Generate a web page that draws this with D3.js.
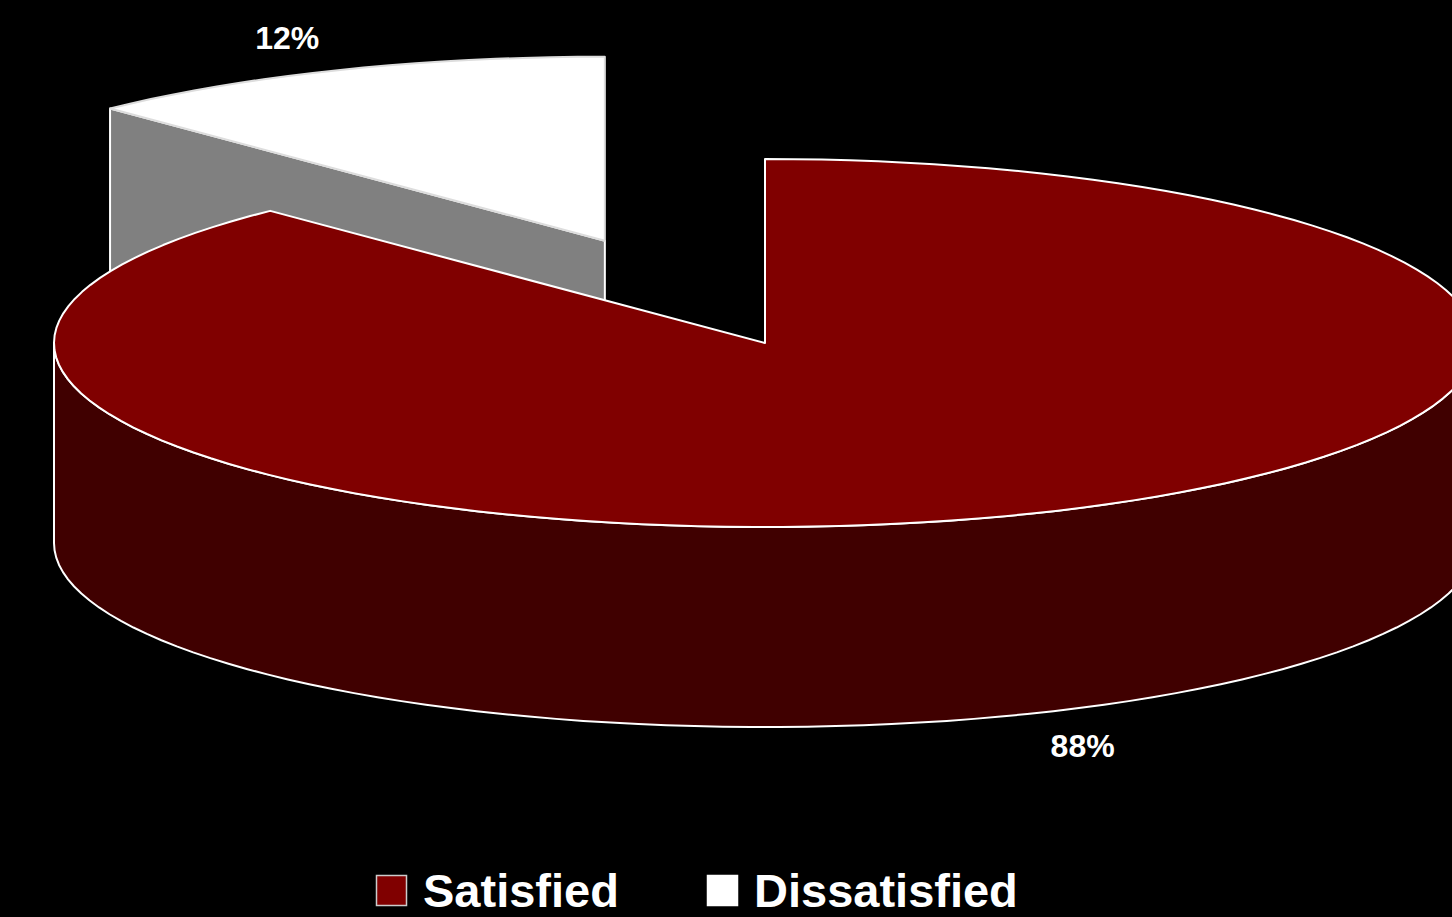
<!DOCTYPE html>
<html>
<head>
<meta charset="utf-8">
<script src="https://cdn.jsdelivr.net/npm/d3@7"></script>
<style>
  body { margin: 0; background: #000; overflow: hidden; }
  text { font-family: Arial, "Liberation Sans", sans-serif; font-weight: bold; fill: #fff; }
</style>
</head>
<body>
<svg id="chart" width="1452" height="917"></svg>
<script>
var categories = ["Satisfied", "Dissatisfied"];
var values = [87.75, 12.25];
var labels = ["88%", "12%"];
var topColors = ["#800000", "#ffffff"];
var sideColors = ["#400000", "#808080"];
var exploded = [0, 0.60];

var width = 1452, height = 917;
var cx = 765, cy = 343;
var rx = 711, ry = 184;
var depth = 200;
var labelK = 1.19;

var svg = d3.select("#chart");
svg.append("rect").attr("width", width).attr("height", height).attr("fill", "#000");

var pie = d3.pie().sort(null).value(function(d) { return d; });
var arcs = pie(values);

// projected point on the ellipse, angle clockwise from 12 o'clock
var sx = d3.scaleLinear().domain([-1, 1]).range([-rx, rx]);
var sy = d3.scaleLinear().domain([-1, 1]).range([ry, -ry]);

function pt(c, a, r, dz) {
    return [c[0] + sx(Math.sin(a) * r), c[1] + sy(Math.cos(a) * r) + (dz || 0)];
}

function arcPts(c, a0, a1, dz) {
    var n = Math.max(2, Math.ceil(Math.abs(a1 - a0) / 0.04));
    return d3.range(n + 1).map(function(i) {
        return pt(c, a0 + (a1 - a0) * i / n, 1, dz);
    });
}

var line = d3.line();

var slices = arcs.map(function(d, i) {
    var mid = (d.startAngle + d.endAngle) / 2;
    var e = exploded[i];
    var c = [cx + sx(Math.sin(mid) * e), cy + sy(Math.cos(mid) * e)];
    return { d: d, i: i, c: c, mid: mid };
});

function drawSlice(s) {
    var d = s.d, c = s.c, i = s.i;
    var g = svg.append("g");
    var a0 = d.startAngle, a1 = d.endAngle;

    // radial face at start angle (visible for slices on the back-left)
    if (Math.sin(a0) < 0 && i > 0) {
        var p0 = c, p1 = pt(c, a0, 1);
        g.append("path")
            .attr("d", line([p0, p1, [p1[0], p1[1] + depth], [p0[0], p0[1] + depth]]) + "Z")
            .attr("fill", sideColors[i]).attr("stroke", "#fff").attr("stroke-width", 2)
            .attr("stroke-linejoin", "round");
    }

    // outer front side
    var f0 = Math.max(a0, Math.PI / 2), f1 = Math.min(a1, 3 * Math.PI / 2);
    if (f1 > f0) {
        var topArc = arcPts(c, f0, f1, 0);
        var botArc = arcPts(c, f1, f0, depth);
        g.append("path")
            .attr("d", line(topArc.concat(botArc)) + "Z")
            .attr("fill", sideColors[i]).attr("stroke", "#fff").attr("stroke-width", 2)
            .attr("stroke-linejoin", "round");
    }

    // top face
    var top = [c].concat(arcPts(c, a0, a1, 0));
    g.append("path")
        .attr("d", line(top) + "Z")
        .attr("fill", topColors[i]).attr("stroke", i === 1 ? "#ddd" : "#fff").attr("stroke-width", 2)
        .attr("stroke-linejoin", "round");
}

// back (exploded) slice first, then the main one
drawSlice(slices[1]);
drawSlice(slices[0]);

// percentage labels
slices.forEach(function(s) {
    var p = pt(s.c, s.mid, labelK, Math.cos(s.mid) < 0 ? depth : 0);
    svg.append("text")
        .attr("x", p[0])
        .attr("y", p[1])
        .attr("dy", "0.35em")
        .attr("text-anchor", "middle")
        .attr("font-size", 32)
        .text(labels[s.i]);
});

// legend
var legendX = [376, 707];
var legendY = 875;
var box = 31;
var legend = svg.append("g");
categories.forEach(function(name, i) {
    legend.append("rect")
        .attr("x", legendX[i] + 0.5).attr("y", legendY + 0.5)
        .attr("width", box - 1).attr("height", box - 1)
        .attr("fill", topColors[i])
        .attr("stroke", i === 0 ? "#ccc" : "#fff").attr("stroke-width", 1.5);
    legend.append("text")
        .attr("x", legendX[i] + box + 16)
        .attr("y", legendY + box + 1)
        .attr("font-size", 47)
        .text(name);
});
</script>
</body>
</html>
